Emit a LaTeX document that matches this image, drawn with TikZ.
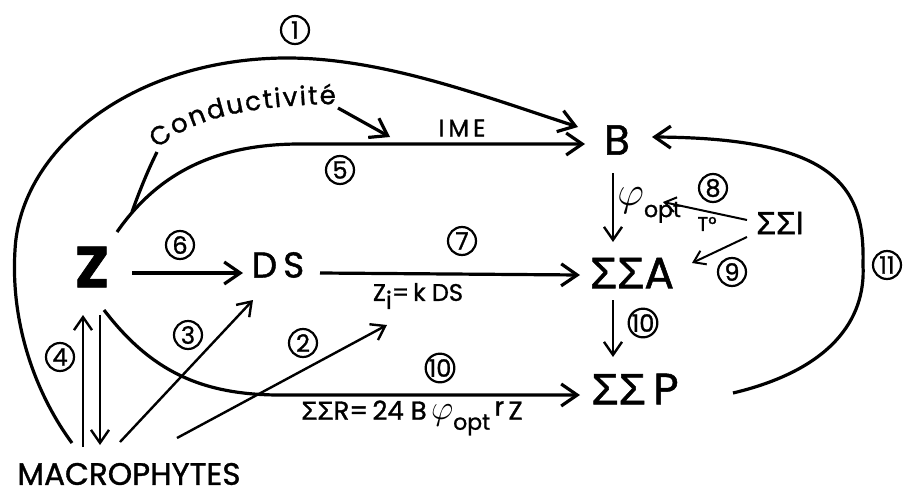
\documentclass[tikz,border=0pt]{standalone}
\usepackage{fontspec}
\setmainfont{Poppins}[FakeBold=1.2]
\newfontfamily\gk{Liberation Sans}[FakeBold=1.2]
\usetikzlibrary{arrows.meta,decorations.text}
\newcommand\sigsig{{\gk ΣΣ}}
\newcommand\fs[1]{\fontsize{#1}{#1}\selectfont}
\begin{document}
\begin{tikzpicture}[x=0.5pt,y=-0.5pt,
  big/.style={line width=1.6pt,-{Straight Barb[length=8pt,width=11pt]}},
  mid/.style={line width=1.2pt,-{Straight Barb[length=6.5pt,width=9pt]}},
  small/.style={line width=1pt,-{Straight Barb[length=5.5pt,width=7.5pt]}},
  plain/.style={line width=1.6pt},
  num/.style={circle,draw,line width=1.1pt,inner sep=0pt,minimum size=14pt,font=\fs{12}},
  lbl/.style={inner sep=0pt}]
\useasboundingbox (0,0) rectangle (911,493);
% main nodes
\node[lbl,font=\bfseries\fs{29}] (Z) at (92,267) {Z};
\node[lbl,font=\fs{18}] (DS) at (278,265) {D\,S};
\node[lbl,font=\fs{21}] (B) at (617,140) {B};
\node[lbl,font=\fs{22}] (A) at (632,273) {\sigsig A};
\node[lbl,font=\fs{22}] (P) at (635,389) {\sigsig\,P};
\node[lbl,font=\fs{16}] (I) at (780,223) {\sigsig I};
\node[lbl,font=\fs{15.5}] (M) at (129,474) {MACROPHYTES};
\node[lbl,font=\fs{12}] (IME) at (462,128) {I\,M\,E};
% circled numbers
\node[num] (n1) at (295,30) {1};
\node[num] (n5) at (340,170) {5};
\node[num] (n6) at (180,245) {6};
\node[num] (n7) at (462,241) {7};
\node[num] (n3) at (188,335) {3};
\node[num] (n2) at (303,343) {2};
\node[num] (n4) at (60,357) {4};
\node[num] (n10a) at (440,368) {10};
\node[num] (n8) at (713,188) {8};
\node[num] (n9) at (732,272) {9};
\node[num] (n10b) at (643,323) {10};
\node[num] (n11) at (887,265) {11};
% labels
\node[lbl,anchor=west] (phi) at (617,205) {\fs{22}$\varphi$\raisebox{-6pt}{\fs{11}opt}};
\node[lbl,font=\fs{10}] (T) at (707,224) {T°};
\node[lbl,font=\fs{12}] (Zi) at (418,296) {Z\raisebox{-4pt}{i}=\,k DS};
\node[lbl,font=\fs{13}] (R) at (412,418) {\sigsig R=\,24 B\,{\fs{18}$\varphi$}\raisebox{-5pt}{\fs{11}opt}\,\raisebox{2pt}{r}\,Z};
% Conductivite text
\path[decorate,decoration={text along path,text align=fit to path,
  text={|\fs{13}|Conductivité}}] (158,149) .. controls (192,116) and (260,105) .. (336,104);
% coordinates
\coordinate (c1s) at (72,443);
\coordinate (c1e) at (578,127);
\coordinate (c5s) at (117,232);
\coordinate (c5e) at (585,144);
\coordinate (cds) at (157,152);
\coordinate (cde) at (132,212);
\coordinate (cas) at (338,108);
\coordinate (cae) at (390,137);
\coordinate (c6s) at (132,273);
\coordinate (c6e) at (243,273);
\coordinate (c7s) at (320,273);
\coordinate (c7e) at (580,275);
\coordinate (c3s) at (120,442);
\coordinate (c3e) at (253,300);
\coordinate (c2s) at (177,438);
\coordinate (c2e) at (387,325);
\coordinate (c4us) at (83,447);
\coordinate (c4ue) at (83,315);
\coordinate (c4ds) at (100,315);
\coordinate (c4de) at (100,445);
\coordinate (c10s) at (104,310);
\coordinate (c10e) at (580,395);
\coordinate (cbs) at (613,173);
\coordinate (cbe) at (613,242);
\coordinate (c8s) at (747,220);
\coordinate (c8e) at (663,202);
\coordinate (c9s) at (747,237);
\coordinate (c9e) at (692,263);
\coordinate (cvs) at (613,300);
\coordinate (cve) at (613,357);
\coordinate (c11s) at (733,393);
\coordinate (c11e) at (652,137);
% connectors
\draw[big] (c1s) .. controls (40,400) and (10,330) .. (15,250)
  .. controls (20,150) and (130,60) .. (283,58)
  .. controls (380,57) and (480,95) .. (c1e);
\draw[big] (c5s) .. controls (160,170) and (220,144) .. (300,144) -- (c5e);
\draw[plain] (cds) .. controls (147,172) and (138,195) .. (cde);
\draw[big] (cas) -- (cae);
\draw[big] (c6s) -- (c6e);
\draw[big] (c7s) -- (c7e);
\draw[mid] (c3s) -- (c3e);
\draw[mid] (c2s) -- (c2e);
\draw[mid] (c4us) -- (c4ue);
\draw[mid] (c4ds) -- (c4de);
\draw[big] (c10s) .. controls (150,370) and (200,395) .. (280,395) -- (c10e);
\draw[mid] (cbs) -- (cbe);
\draw[small] (c8s) -- (c8e);
\draw[small] (c9s) -- (c9e);
\draw[mid] (cvs) -- (cve);
\draw[big] (c11s) .. controls (830,370) and (866,320) .. (863,265)
  .. controls (865,190) and (840,138) .. (c11e);
\end{tikzpicture}
\end{document}
